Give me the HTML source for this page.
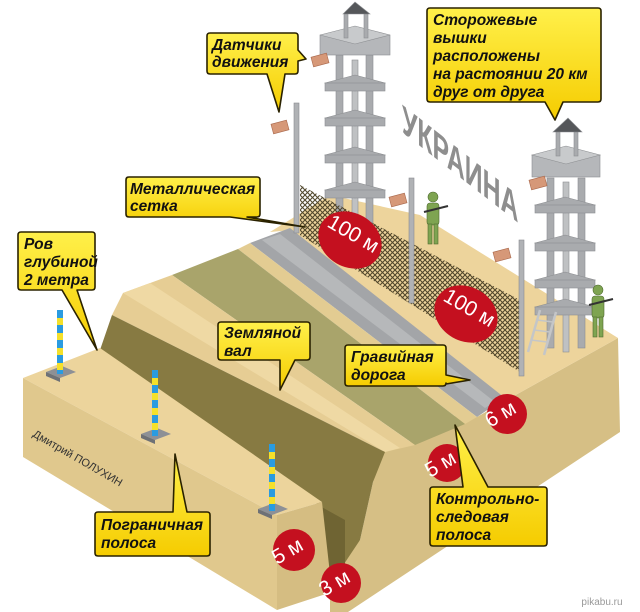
<!DOCTYPE html>
<html><head><meta charset="utf-8"><style>
html,body{margin:0;padding:0;background:#fff;}
svg{display:block;}
.cl{font-family:"Liberation Sans",sans-serif;font-weight:bold;font-style:italic;font-size:15.5px;fill:#111;}
.rc{font-family:"Liberation Sans",sans-serif;fill:#fff;font-size:21px;}
</style></head><body>
<svg width="640" height="612" viewBox="0 0 640 612" xmlns="http://www.w3.org/2000/svg">
<defs>
<pattern id="mesh" width="5" height="5" patternUnits="userSpaceOnUse">
<path d="M0,0L5,5M5,0L0,5" stroke="#4a4025" stroke-width="1.1"/>
</pattern>
<linearGradient id="yg" x1="0" y1="0" x2="0" y2="1"><stop offset="0" stop-color="#fff04a"/><stop offset="1" stop-color="#f5cc00"/></linearGradient>
</defs>

<text x="0" y="0" transform="translate(402,132) skewY(38) scale(0.62,1)" font-family="Liberation Sans" font-weight="bold" font-size="40" fill="#8e8e8e">УКРАИНА</text>

<polygon points="383,450 415,440 462,412 477,417 503,402 618,338 620,432 348,612 330,612 330,570 360,540 373,482" fill="#d6bf85"/>
<polygon points="270,232 330,195 420,215 618,338 503,402 292,230" fill="#edd49c"/>
<polygon points="250,243 290,228 505,398 477,417" fill="#a3a5a8"/>
<polygon points="262,240 280,234 495,402 485,408" fill="#b6b8ba"/>
<polygon points="238,249 250,243 477,417 465,424" fill="#e3cc92"/>
<polygon points="172,275 238,249 465,424 415,445" fill="#a9a46b"/>
<polygon points="112,315 123,293 172,275 415,445 385,452" fill="#e6cd94"/>
<polygon points="123,293 150,283 400,448 385,452" fill="#efd9a4"/>
<polygon points="112,315 385,452 373,482 360,540 330,585 318,505 100,350" fill="#877a42"/>
<polygon points="318,505 330,585 345,570 345,520" fill="#6f6433"/>
<polygon points="23,378 100,348 322,502 277,515" fill="#ecd49c"/>
<polygon points="23,378 277,515 277,610 23,457" fill="#e0c88d"/>
<polygon points="277,515 322,502 332,592 277,610" fill="#d5bd82"/>
<text transform="translate(32,436) rotate(30)" font-family="Liberation Sans" font-size="11" fill="#333">Дмитрий ПОЛУХИН</text>

<g>
<polygon points="46,372 62,366 76,372 60,378" fill="#8d9096"/><polygon points="46,372 60,378 60,382 46,376" fill="#6e7176"/>
<rect x="57" y="310" width="6" height="64" fill="#2a9be0"/>
<path d="M57,318h6v7h-6zM57,333h6v7h-6zM57,348h6v7h-6zM57,363h6v7h-6z" fill="#f5e02a"/>
<polygon points="141,434 157,428 171,434 155,440" fill="#8d9096"/><polygon points="141,434 155,440 155,444 141,438" fill="#6e7176"/>
<rect x="152" y="370" width="6" height="66" fill="#2a9be0"/>
<path d="M152,378h6v7h-6zM152,393h6v7h-6zM152,408h6v7h-6zM152,423h6v7h-6z" fill="#f5e02a"/>
<polygon points="258,509 274,503 288,509 272,515" fill="#8d9096"/><polygon points="258,509 272,515 272,519 258,513" fill="#6e7176"/>
<rect x="269" y="444" width="6" height="67" fill="#2a9be0"/>
<path d="M269,452h6v7h-6zM269,467h6v7h-6zM269,482h6v7h-6zM269,497h6v7h-6z" fill="#f5e02a"/>
</g>

<g fill="#a9abae" stroke="#8c8e91" stroke-width="0.6">
<rect x="336" y="55" width="7" height="170"/><rect x="366" y="55" width="7" height="170"/>
<rect x="352" y="60" width="6" height="170" fill="#bfc1c3"/>
<polygon points="325,83 355,75 385,83 355,91" /><rect x="325" y="83" width="60" height="8"/>
<polygon points="325,118 355,110 385,118 355,126"/><rect x="325" y="118" width="60" height="8"/>
<polygon points="325,155 355,147 385,155 355,163"/><rect x="325" y="155" width="60" height="8"/>
<polygon points="325,190 355,182 385,190 355,198"/><rect x="325" y="190" width="60" height="8"/>
<rect x="320" y="35" width="70" height="20" fill="#b5b7ba"/>
<polygon points="320,35 355,26 390,35 355,44" fill="#c8cacc"/>
<rect x="344" y="14" width="4" height="24"/><rect x="364" y="14" width="4" height="24"/>
<polygon points="343,14 355,2 370,14" fill="#55575a"/>
</g>
<g fill="#a9abae" stroke="#8c8e91" stroke-width="0.6">
<rect x="547" y="178" width="7" height="170"/><rect x="578" y="178" width="7" height="170"/>
<rect x="563" y="182" width="6" height="170" fill="#bfc1c3"/>
<polygon points="535,205 565,197 595,205 565,213"/><rect x="535" y="205" width="60" height="8"/>
<polygon points="535,243 565,235 595,243 565,251"/><rect x="535" y="243" width="60" height="8"/>
<polygon points="535,280 565,272 595,280 565,288"/><rect x="535" y="280" width="60" height="8"/>
<polygon points="535,307 565,299 595,307 565,315"/><rect x="535" y="307" width="60" height="8"/>
<rect x="532" y="155" width="68" height="22" fill="#b5b7ba"/>
<polygon points="532,155 566,146 600,155 566,164" fill="#c8cacc"/>
<rect x="556" y="132" width="4" height="24"/><rect x="574" y="132" width="4" height="24"/>
<polygon points="553,132 568,118 582,132" fill="#55575a"/>
</g>
<g stroke="#c4c6c8" stroke-width="2.5"><line x1="540" y1="310" x2="528" y2="352"/><line x1="556" y1="312" x2="544" y2="355"/></g>
<g stroke="#c4c6c8" stroke-width="1.6"><line x1="537" y1="320" x2="553" y2="322"/><line x1="534" y1="330" x2="550" y2="332"/><line x1="531" y1="340" x2="547" y2="342"/></g>

<polygon points="300,185 520,300 520,372 300,235" fill="url(#mesh)" opacity="0.95"/>
<g fill="#b0b2b5" stroke="#8a8c8f" stroke-width="0.6">
<rect x="294" y="103" width="5" height="130"/><rect x="409" y="178" width="5" height="125"/><rect x="519" y="240" width="5" height="136"/>
</g>
<g fill="#d69878" stroke="#a9684c" stroke-width="0.6">
<rect x="272" y="122" width="16" height="10" transform="rotate(-15 280 127)"/>
<rect x="312" y="55" width="16" height="10" transform="rotate(-15 320 60)"/>
<rect x="390" y="195" width="16" height="10" transform="rotate(-15 398 200)"/>
<rect x="494" y="250" width="16" height="10" transform="rotate(-15 502 255)"/>
<rect x="530" y="178" width="16" height="10" transform="rotate(-15 538 183)"/>
</g>
<g fill="#7ea451" stroke="#4f6b30" stroke-width="0.6">
<circle cx="433" cy="197" r="5"/><rect x="427" y="203" width="12" height="22" rx="3"/>
<rect x="428" y="224" width="4" height="20"/><rect x="434" y="224" width="4" height="20"/>
<circle cx="598" cy="290" r="5"/><rect x="592" y="296" width="12" height="22" rx="3"/>
<rect x="593" y="317" width="4" height="20"/><rect x="599" y="317" width="4" height="20"/>
</g>
<line x1="424" y1="212" x2="448" y2="206" stroke="#333" stroke-width="2"/>
<line x1="589" y1="305" x2="613" y2="299" stroke="#333" stroke-width="2"/>

<g fill="#c4101f">
<ellipse cx="350" cy="240" rx="33" ry="27" transform="rotate(30 350 240)"/>
<ellipse cx="466" cy="314" rx="33" ry="27" transform="rotate(30 466 314)"/>
<circle cx="507" cy="414" r="20"/>
<circle cx="447" cy="463" r="19"/>
<circle cx="294" cy="550" r="21"/>
<circle cx="341" cy="583" r="20"/>
</g>
<g class="rc">
<text transform="translate(326,226) rotate(30)">100 м</text>
<text transform="translate(442,300) rotate(30)">100 м</text>
<text transform="translate(490,428) rotate(-30)">6 м</text>
<text transform="translate(430,478) rotate(-30)">5 м</text>
<text transform="translate(277,565) rotate(-30)">5 м</text>
<text transform="translate(324,597) rotate(-30)">3 м</text>
</g>

<g fill="url(#yg)" stroke="#2a2200" stroke-width="1.6" stroke-linejoin="round">
<path d="M210,33 h85 q3,0 3,3 v14 l8,9 l-8,2 v10 q0,3 -3,3 h-10 l-6,38 l-12,-38 h-57 q-3,0 -3,-3 v-35 q0,-3 3,-3z"/>
<path d="M430,8 h168 q3,0 3,3 v88 q0,3 -3,3 h-35 l-8,18 l-10,-18 h-115 q-3,0 -3,-3 v-88 q0,-3 3,-3z"/>
<path d="M129,177 h128 q3,0 3,3 v34 q0,3 -3,3 h-10 l58,10 l-75,-10 h-101 q-3,0 -3,-3 v-34 q0,-3 3,-3z"/>
<path d="M21,232 h71 q3,0 3,3 v52 q0,3 -3,3 h-15 l20,60 l-35,-60 h-41 q-3,0 -3,-3 v-52 q0,-3 3,-3z"/>
<path d="M221,322 h86 q3,0 3,3 v32 q0,3 -3,3 h-12 l-15,30 l0,-30 h-59 q-3,0 -3,-3 v-32 q0,-3 3,-3z"/>
<path d="M348,345 h95 q3,0 3,3 v27 l24,5 l-24,4 v-1 q0,3 -3,3 h-95 q-3,0 -3,-3 v-35 q0,-3 3,-3z"/>
<path d="M433,487 h30 l-8,-62 l33,62 h56 q3,0 3,3 v53 q0,3 -3,3 h-111 q-3,0 -3,-3 v-53 q0,-3 3,-3z"/>
<path d="M98,512 h75 l2,-58 l12,58 h20 q3,0 3,3 v38 q0,3 -3,3 h-109 q-3,0 -3,-3 v-38 q0,-3 3,-3z"/>
</g>
<g class="cl">
<text x="212" y="50">Датчики</text><text x="212" y="67">движения</text>
<text x="433" y="25">Сторожевые</text><text x="433" y="43">вышки</text><text x="433" y="61">расположены</text><text x="433" y="79">на растоянии 20 км</text><text x="433" y="97">друг от друга</text>
<text x="130" y="194">Металлическая</text><text x="130" y="211">сетка</text>
<text x="24" y="249">Ров</text><text x="24" y="267">глубиной</text><text x="24" y="285">2 метра</text>
<text x="224" y="338">Земляной</text><text x="224" y="356">вал</text>
<text x="351" y="362">Гравийная</text><text x="351" y="380">дорога</text>
<text x="436" y="504">Контрольно-</text><text x="436" y="522">следовая</text><text x="436" y="540">полоса</text>
<text x="101" y="530">Пограничная</text><text x="101" y="548">полоса</text>
</g>
<text x="602" y="605" font-family="Liberation Sans" font-size="10" fill="#999" text-anchor="middle">pikabu.ru</text>
</svg>
</body></html>
